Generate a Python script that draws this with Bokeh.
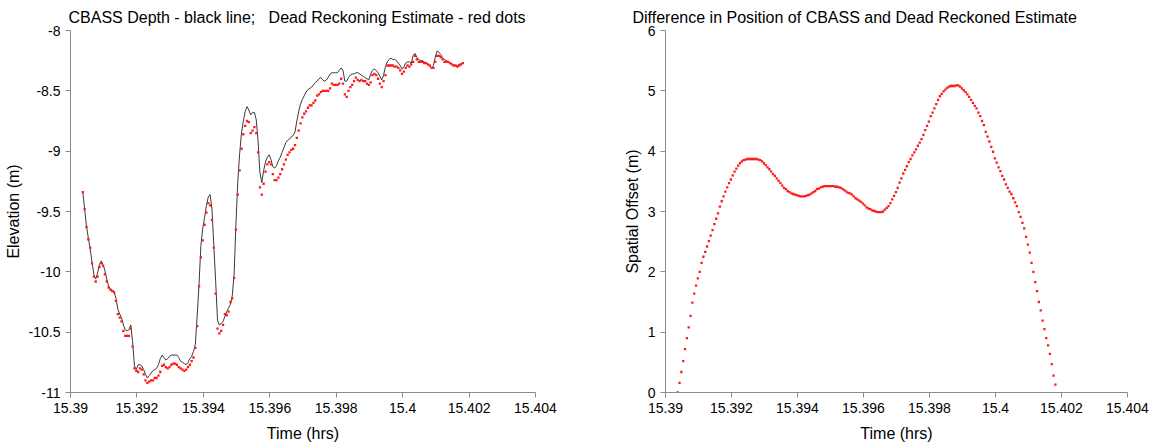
from bokeh.plotting import figure
from bokeh.layouts import row
from bokeh.models import FixedTicker, ColumnDataSource
from bokeh.embed import file_html
from bokeh.resources import INLINE
import numpy as np

# ---- data ----
t_start = 15.39037          # first sample time (hrs)
t_step = 0.00005556         # 5 Hz sampling (0.2 s)

cbass_depth = [
    -9.34, -9.48, -9.62, -9.72, -9.81, -9.92, -10.02, -10.06, -10.01, -9.94,
    -9.91, -9.94, -9.99, -10.06, -10.12, -10.14, -10.15, -10.17, -10.22, -10.31,
    -10.35, -10.38, -10.44, -10.48, -10.49, -10.48, -10.44, -10.58, -10.78, -10.81,
    -10.77, -10.77, -10.78, -10.81, -10.85, -10.88, -10.86, -10.84, -10.82, -10.81,
    -10.80, -10.77, -10.72, -10.69, -10.71, -10.73, -10.72, -10.70, -10.69, -10.69,
    -10.69, -10.69, -10.71, -10.74, -10.75, -10.76, -10.77, -10.75, -10.72, -10.70,
    -10.66, -10.60, -10.36, -10.10, -9.78, -9.64, -9.55, -9.45, -9.38, -9.36,
    -9.48, -9.78, -10.08, -10.40, -10.44, -10.43, -10.41, -10.37, -10.33, -10.30,
    -10.27, -10.20, -10.02, -9.60, -9.25, -9.02, -8.85, -8.75, -8.67, -8.63,
    -8.66, -8.70, -8.68, -8.68, -8.74, -8.92, -9.18, -9.26, -9.16, -9.09,
    -9.05, -9.03, -9.07, -9.13, -9.14, -9.12, -9.08, -9.05, -9.01, -8.97,
    -8.93, -8.91, -8.90, -8.88, -8.87, -8.84, -8.75, -8.67, -8.61, -8.57,
    -8.54, -8.51, -8.49, -8.48, -8.47, -8.45, -8.43, -8.42, -8.40, -8.39,
    -8.41, -8.42, -8.41, -8.39, -8.36, -8.35, -8.35, -8.35, -8.35, -8.33,
    -8.31, -8.33, -8.42, -8.42, -8.39, -8.37, -8.36, -8.36, -8.35, -8.35,
    -8.36, -8.37, -8.38, -8.39, -8.40, -8.41, -8.36, -8.33, -8.32, -8.33,
    -8.35, -8.38, -8.41, -8.37, -8.30, -8.26, -8.24, -8.23, -8.24, -8.24,
    -8.25, -8.27, -8.29, -8.32, -8.30, -8.27, -8.26, -8.26, -8.27, -8.21,
    -8.19, -8.22, -8.24, -8.25, -8.25, -8.26, -8.27, -8.28, -8.29, -8.31,
    -8.29, -8.22, -8.17, -8.18, -8.20, -8.23, -8.24, -8.25, -8.26, -8.27,
    -8.28, -8.29, -8.29, -8.29, -8.28, -8.28, -8.27,
]

dead_reckoning = [
    -9.34, -9.48, -9.63, -9.73, -9.80, -9.93, -10.04, -10.08, -10.04, -9.96,
    -9.93, -9.95, -10.02, -10.08, -10.13, -10.15, -10.16, -10.17, -10.24, -10.35,
    -10.38, -10.41, -10.49, -10.53, -10.53, -10.53, -10.47, -10.62, -10.80, -10.82,
    -10.83, -10.80, -10.81, -10.85, -10.90, -10.92, -10.91, -10.90, -10.90, -10.88,
    -10.88, -10.86, -10.83, -10.78, -10.77, -10.79, -10.80, -10.79, -10.77, -10.76,
    -10.76, -10.77, -10.79, -10.80, -10.81, -10.82, -10.81, -10.79, -10.77, -10.74,
    -10.71, -10.63, -10.45, -10.12, -9.88, -9.74, -9.61, -9.51, -9.43, -9.45,
    -9.57, -9.80, -10.18, -10.47, -10.51, -10.49, -10.44, -10.35, -10.36, -10.33,
    -10.25, -10.22, -10.05, -9.65, -9.36, -9.16, -8.98, -8.86, -8.79, -8.75,
    -8.76, -8.85, -8.83, -8.80, -8.85, -9.01, -9.30, -9.36, -9.27, -9.17,
    -9.11, -9.09, -9.11, -9.19, -9.24, -9.24, -9.22, -9.19, -9.15, -9.11,
    -9.07, -9.03, -9.01, -8.99, -8.98, -8.95, -8.89, -8.83, -8.77, -8.72,
    -8.69, -8.67, -8.64, -8.62, -8.62, -8.60, -8.58, -8.54, -8.53, -8.51,
    -8.50, -8.50, -8.50, -8.50, -8.48, -8.44, -8.45, -8.45, -8.45, -8.44,
    -8.40, -8.44, -8.53, -8.55, -8.50, -8.47, -8.45, -8.42, -8.39, -8.41,
    -8.42, -8.41, -8.42, -8.42, -8.44, -8.45, -8.43, -8.37, -8.36, -8.37,
    -8.40, -8.44, -8.47, -8.42, -8.37, -8.29, -8.29, -8.29, -8.29, -8.30,
    -8.30, -8.31, -8.33, -8.36, -8.34, -8.31, -8.29, -8.30, -8.28, -8.26,
    -8.21, -8.24, -8.26, -8.26, -8.26, -8.27, -8.27, -8.28, -8.29, -8.31,
    -8.31, -8.26, -8.21, -8.21, -8.22, -8.24, -8.26, -8.26, -8.26, -8.27,
    -8.28, -8.29, -8.29, -8.30, -8.29, -8.28, -8.27,
]

spatial_offset = [
    0.00, 0.16, 0.34, 0.52, 0.72, 0.90, 1.08, 1.27, 1.49, 1.64,
    1.77, 1.89, 2.00, 2.15, 2.25, 2.33, 2.42, 2.51, 2.60, 2.69,
    2.79, 2.88, 2.97, 3.08, 3.17, 3.25, 3.33, 3.40, 3.47, 3.53,
    3.60, 3.66, 3.71, 3.76, 3.80, 3.83, 3.85, 3.86, 3.87, 3.87,
    3.87, 3.87, 3.87, 3.87, 3.86, 3.85, 3.83, 3.80, 3.77, 3.73,
    3.70, 3.66, 3.62, 3.59, 3.55, 3.51, 3.47, 3.43, 3.39, 3.37,
    3.34, 3.32, 3.30, 3.29, 3.28, 3.27, 3.26, 3.25, 3.25, 3.25,
    3.26, 3.27, 3.28, 3.30, 3.32, 3.34, 3.37, 3.38, 3.40, 3.41,
    3.42, 3.42, 3.42, 3.42, 3.42, 3.42, 3.41, 3.41, 3.40, 3.39,
    3.37, 3.35, 3.33, 3.31, 3.30, 3.28, 3.25, 3.22, 3.20, 3.18,
    3.16, 3.13, 3.10, 3.07, 3.05, 3.04, 3.02, 3.01, 3.00, 2.99,
    2.99, 2.99, 3.00, 3.03, 3.06, 3.09, 3.14, 3.20, 3.26, 3.32,
    3.39, 3.48, 3.55, 3.63, 3.69, 3.75, 3.82, 3.87, 3.93, 3.98,
    4.03, 4.09, 4.14, 4.20, 4.27, 4.35, 4.42, 4.49, 4.58, 4.64,
    4.71, 4.78, 4.85, 4.91, 4.95, 4.99, 5.02, 5.05, 5.07, 5.08,
    5.08, 5.08, 5.09, 5.09, 5.07, 5.04, 5.01, 4.98, 4.94, 4.90,
    4.85, 4.80, 4.75, 4.71, 4.64, 4.58, 4.50, 4.43, 4.32, 4.24,
    4.16, 4.07, 3.99, 3.88, 3.81, 3.73, 3.67, 3.59, 3.53, 3.45,
    3.39, 3.33, 3.29, 3.22, 3.15, 3.09, 2.99, 2.91, 2.81, 2.72,
    2.58, 2.45, 2.32, 2.15, 2.00, 1.83, 1.68, 1.50, 1.36, 1.19,
    1.05, 0.90, 0.78, 0.64, 0.47, 0.28, 0.13,
]

x_ticks = [15.39, 15.392, 15.394, 15.396, 15.398, 15.4, 15.402, 15.404]
x_tick_labels = ["15.39", "15.392", "15.394", "15.396", "15.398", "15.4", "15.402", "15.404"]
left_y_ticks = [-11, -10.5, -10, -9.5, -9, -8.5, -8]
left_y_tick_labels = ["-11", "-10.5", "-10", "-9.5", "-9", "-8.5", "-8"]
right_y_ticks = [0, 1, 2, 3, 4, 5, 6]
right_y_tick_labels = ["0", "1", "2", "3", "4", "5", "6"]

time_hrs = t_start + t_step * np.arange(len(cbass_depth))
time_hrs2 = t_start + t_step * np.arange(len(spatial_offset))

FONT = "Liberation Sans"
AXIS_COL = "#8a8a8a"


def style(p, xt, xl, yt, yl, xlabel, ylabel):
    p.xaxis.ticker = FixedTicker(ticks=xt)
    p.yaxis.ticker = FixedTicker(ticks=yt)
    p.xaxis.major_label_overrides = {k: v for k, v in zip(xt, xl)}
    p.yaxis.major_label_overrides = {k: v for k, v in zip(yt, yl)}
    p.xaxis.axis_label = xlabel
    p.yaxis.axis_label = ylabel
    for ax in (p.xaxis, p.yaxis):
        ax.axis_line_color = AXIS_COL
        ax.major_tick_line_color = AXIS_COL
        ax.minor_tick_line_color = None
        ax.major_tick_in = 0
        ax.major_tick_out = 5
        ax.major_label_text_font = FONT
        ax.major_label_text_font_size = "14px"
        ax.major_label_text_color = "black"
        ax.axis_label_text_font = FONT
        ax.axis_label_text_font_size = "16px"
        ax.axis_label_text_font_style = "normal"
        ax.axis_label_text_color = "black"
    p.xaxis.major_label_standoff = 5
    p.yaxis.major_label_standoff = 5
    p.xaxis.axis_label_standoff = 9
    p.yaxis.axis_label_standoff = 4
    p.xgrid.grid_line_color = None
    p.ygrid.grid_line_color = None
    p.outline_line_color = None
    p.title.text_font = FONT
    p.title.text_font_size = "16px"
    p.title.text_font_style = "normal"
    p.title.text_color = "black"
    p.title.align = "left"


p1 = figure(width=578, height=444, x_range=(15.39, 15.404), y_range=(-11, -8),
            output_backend="svg", toolbar_location=None,
            min_border_left=70, min_border_right=43, min_border_top=30, min_border_bottom=52,
            title="CBASS Depth - black line;\u00a0\u00a0 Dead Reckoning Estimate - red dots")
style(p1, x_ticks, x_tick_labels, left_y_ticks, left_y_tick_labels, "Time (hrs)", "Elevation (m)")
p1.title.offset = -2
src1 = ColumnDataSource(dict(t=time_hrs, depth=cbass_depth, dr=dead_reckoning))
p1.line("t", "depth", source=src1, line_color="#3a3a3a", line_width=1)
p1.scatter("t", "dr", source=src1, marker="square", size=2.3, fill_color="#ff1a1a",
           line_color=None)

p2 = figure(width=578, height=444, x_range=(15.39, 15.404), y_range=(0, 6),
            output_backend="svg", toolbar_location=None,
            min_border_left=87, min_border_right=29, min_border_top=30, min_border_bottom=52,
            title="Difference in Position of CBASS and Dead Reckoned Estimate")
style(p2, x_ticks, x_tick_labels, right_y_ticks, right_y_tick_labels, "Time (hrs)", "Spatial Offset (m)")
p2.title.offset = -33
src2 = ColumnDataSource(dict(t=time_hrs2, off=spatial_offset))
p2.scatter("t", "off", source=src2, marker="square", size=2.3, fill_color="#ff1a1a",
           line_color=None)

layout = row(p1, p2)
open("out.html", "w").write(file_html(layout, INLINE))
